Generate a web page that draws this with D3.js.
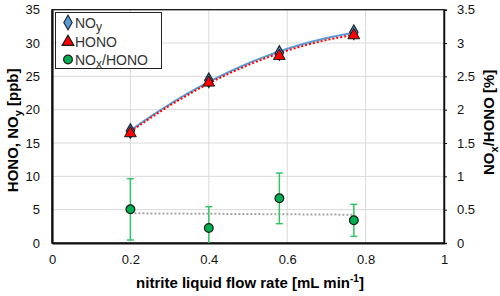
<!DOCTYPE html>
<html>
<head>
<meta charset="utf-8">
<script src="https://cdn.jsdelivr.net/npm/d3@7"></script>
<style>
  body { margin: 0; background: #fff; }
  svg { font-family: "Liberation Sans", Arial, sans-serif; }
</style>
</head>
<body>
<svg id="chart" width="500" height="296"></svg>
<script>
// Data
const flowRate = [0.2, 0.4, 0.58, 0.77];
const noy = [16.8, 24.4, 28.5, 31.6];
const hono = [16.6, 24.2, 28.2, 31.3];
const ratio = [0.505, 0.225, 0.67, 0.34];
const ratioErr = [0.46, 0.32, 0.38, 0.24];
const xTicks = [0, 0.2, 0.4, 0.6, 0.8, 1];
const yLeftTicks = [0, 5, 10, 15, 20, 25, 30, 35];
const yRightTicks = [0, 0.5, 1, 1.5, 2, 2.5, 3, 3.5];

const svg = d3.select("#chart");
const margin = { top: 9.7, right: 56, bottom: 53, left: 52 };
const W = 500, H = 296;

const x = d3.scaleLinear().domain([0, 1]).range([margin.left, W - margin.right]);
const yL = d3.scaleLinear().domain([0, 35]).range([H - margin.bottom, margin.top]);
const yR = d3.scaleLinear().domain([0, 3.5]).range([H - margin.bottom, margin.top]);

// least squares polynomial fit (degree n)
function polyFit(xs, ys, n) {
  const m = n + 1;
  const A = Array.from({ length: m }, () => new Array(m + 1).fill(0));
  xs.forEach((xv, k) => {
    for (let i = 0; i < m; i++) {
      for (let j = 0; j < m; j++) A[i][j] += Math.pow(xv, i + j);
      A[i][m] += ys[k] * Math.pow(xv, i);
    }
  });
  for (let i = 0; i < m; i++) {
    let p = i;
    for (let r = i + 1; r < m; r++) if (Math.abs(A[r][i]) > Math.abs(A[p][i])) p = r;
    [A[i], A[p]] = [A[p], A[i]];
    for (let r = 0; r < m; r++) {
      if (r === i) continue;
      const f = A[r][i] / A[i][i];
      for (let c = i; c <= m; c++) A[r][c] -= f * A[i][c];
    }
  }
  const coef = A.map((row, i) => row[m] / row[i]);
  return v => coef.reduce((s, c, i) => s + c * Math.pow(v, i), 0);
}

// text with a sub/superscript part, using dy so following text goes back to the baseline
function richText(t, parts) {
  parts.forEach(p => {
    const s = t.append("tspan").text(p.text);
    if (p.shift) s.attr("dy", p.shift).attr("font-size", p.size);
    if (p.back) s.attr("dy", p.back);
  });
}

// grid
const grid = svg.append("g").attr("stroke", "#d9d9d9").attr("stroke-width", 1);
grid.selectAll("line.gx").data(xTicks.slice(1, -1)).enter().append("line")
  .attr("x1", d => x(d)).attr("x2", d => x(d))
  .attr("y1", yL(0)).attr("y2", yL(35));
grid.selectAll("line.gy").data(yLeftTicks.slice(1, -1)).enter().append("line")
  .attr("y1", d => yL(d)).attr("y2", d => yL(d))
  .attr("x1", x(0)).attr("x2", x(1));

// frame
svg.append("rect")
  .attr("x", x(0)).attr("y", yL(35))
  .attr("width", x(1) - x(0)).attr("height", yL(0) - yL(35))
  .attr("fill", "none").attr("stroke", "#111").attr("stroke-width", 1.3);

// axes
const xAxis = svg.append("g")
  .attr("transform", `translate(0,${yL(0)})`)
  .call(d3.axisBottom(x).tickValues(xTicks).tickSize(0).tickPadding(12).tickFormat(d3.format("")));
const yAxisL = svg.append("g")
  .attr("transform", `translate(${x(0)},0)`)
  .call(d3.axisLeft(yL).tickValues(yLeftTicks).tickSize(0).tickPadding(12));
const yAxisR = svg.append("g")
  .attr("transform", `translate(${x(1)},0)`)
  .call(d3.axisRight(yR).tickValues(yRightTicks).tickSize(3).tickPadding(10).tickFormat(d3.format("")));
[xAxis, yAxisL, yAxisR].forEach(a => {
  a.selectAll("text").attr("font-size", 13).attr("fill", "#111")
    .attr("font-family", "'Liberation Sans', Arial, sans-serif");
  a.select(".domain").attr("stroke", "#111");
  a.selectAll(".tick line").attr("stroke", "#111");
});
xAxis.select(".domain").attr("stroke-width", 2.2);
yAxisL.select(".domain").attr("stroke-width", 2.2);
yAxisR.select(".domain").attr("stroke-width", 1.5);

// axis titles
const midY = (yL(0) + yL(35)) / 2;
svg.append("text")
  .attr("transform", `translate(18,${midY + 4}) rotate(-90)`)
  .attr("text-anchor", "middle").attr("font-size", 15).attr("font-weight", "bold")
  .call(t => richText(t, [
    { text: "HONO, NO" },
    { text: "y", shift: 4, size: 11 },
    { text: " [ppb]", back: -4 }
  ]));
svg.append("text")
  .attr("transform", `translate(494,${midY - 4}) rotate(-90)`)
  .attr("text-anchor", "middle").attr("font-size", 15).attr("font-weight", "bold")
  .call(t => richText(t, [
    { text: "NO" },
    { text: "x", shift: 4, size: 11 },
    { text: "/HONO [%]", back: -4 }
  ]));
svg.append("text")
  .attr("x", (x(0) + x(1)) / 2 + 2).attr("y", 288)
  .attr("text-anchor", "middle").attr("font-size", 15).attr("font-weight", "bold")
  .call(t => richText(t, [
    { text: "nitrite liquid flow rate [mL min" },
    { text: "-1", shift: -6, size: 10 },
    { text: "]", back: 6 }
  ]));

// fit curves
const xs = d3.range(flowRate[0], flowRate[flowRate.length - 1] + 0.0001, 0.005);
const fitNoy = polyFit(flowRate, noy, 2);
const fitHono = polyFit(flowRate, hono, 2);
const fitRatio = polyFit(flowRate, ratio, 1);
const lineL = f => d3.line().x(d => x(d)).y(d => yL(f(d)));
svg.append("path").attr("d", lineL(fitNoy)(xs))
  .attr("fill", "none").attr("stroke", "#5b9bd5").attr("stroke-width", 2);
svg.append("path").attr("d", lineL(fitHono)(xs))
  .attr("fill", "none").attr("stroke", "#ff0000").attr("stroke-width", 2).attr("stroke-dasharray", "2,2");
svg.append("path")
  .attr("d", d3.line().x(d => x(d)).y(d => yR(fitRatio(d)))(xs))
  .attr("fill", "none").attr("stroke", "#a6a6a6").attr("stroke-width", 2).attr("stroke-dasharray", "2,2");

// error bars
const errColor = "#33c463";
const eb = svg.append("g").attr("stroke", errColor).attr("stroke-width", 1.5);
flowRate.forEach((fx, i) => {
  const lo = Math.max(0, ratio[i] - ratioErr[i]), hi = ratio[i] + ratioErr[i];
  eb.append("line").attr("x1", x(fx)).attr("x2", x(fx)).attr("y1", yR(lo)).attr("y2", yR(hi));
  eb.append("line").attr("x1", x(fx) - 3.5).attr("x2", x(fx) + 3.5).attr("y1", yR(hi)).attr("y2", yR(hi));
  if (ratio[i] - ratioErr[i] > 0)
    eb.append("line").attr("x1", x(fx) - 3.5).attr("x2", x(fx) + 3.5).attr("y1", yR(lo)).attr("y2", yR(lo));
});

// markers
const diamond = d3.symbol().type(d3.symbolDiamond).size(60);
const triangle = d3.symbol().type(d3.symbolTriangle).size(60);
const circle = d3.symbol().type(d3.symbolCircle).size(60);
svg.append("g").selectAll("path").data(flowRate).enter().append("path")
  .attr("d", diamond).attr("transform", (d, i) => `translate(${x(d)},${yL(noy[i])})`)
  .attr("fill", "#5b9bd5").attr("stroke", "#1f2a3a").attr("stroke-width", 1.3);
svg.append("g").selectAll("path").data(flowRate).enter().append("path")
  .attr("d", triangle).attr("transform", (d, i) => `translate(${x(d)},${yL(hono[i]) + 1})`)
  .attr("fill", "#ff0000").attr("stroke", "#1a1a1a").attr("stroke-width", 1);
svg.append("g").selectAll("path").data(flowRate).enter().append("path")
  .attr("d", circle).attr("transform", (d, i) => `translate(${x(d)},${yR(ratio[i])})`)
  .attr("fill", "#00b050").attr("stroke", "#1a1a1a").attr("stroke-width", 1.2);

// legend
const lg = svg.append("g");
lg.append("rect").attr("x", 55.5).attr("y", 12.5).attr("width", 106).attr("height", 56)
  .attr("fill", "#fff").attr("stroke", "#222").attr("stroke-width", 1);
const legendItems = [
  { sym: diamond, fill: "#5b9bd5", stroke: "#1f2a3a", main: "NO", sub: "y", rest: "" },
  { sym: triangle, fill: "#ff0000", stroke: "#1a1a1a", main: "HONO", sub: "", rest: "" },
  { sym: circle, fill: "#00b050", stroke: "#1a1a1a", main: "NO", sub: "x", rest: "/HONO" }
];
legendItems.forEach((it, i) => {
  const cy = 22.5 + i * 18.5;
  lg.append("path").attr("d", it.sym).attr("transform", `translate(68,${cy + (i === 1 ? 1 : 0)})`)
    .attr("fill", it.fill).attr("stroke", it.stroke).attr("stroke-width", 1.2);
  const t = lg.append("text").attr("x", 75).attr("y", cy + 5.5).attr("font-size", 14).attr("fill", "#333");
  const parts = [{ text: it.main }];
  if (it.sub) parts.push({ text: it.sub, shift: 3, size: 12 });
  if (it.rest) parts.push({ text: it.rest, back: -3 });
  richText(t, parts);
});
</script>
</body>
</html>
